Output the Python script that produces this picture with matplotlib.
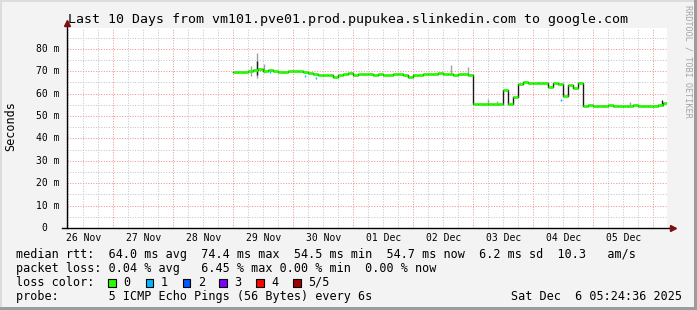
import matplotlib
matplotlib.use("Agg")
import matplotlib.pyplot as plt
import matplotlib.transforms as mtrans
from matplotlib.patches import Rectangle
from matplotlib.lines import Line2D

# ---------------- data (x in days since 26 Nov 00:00) ----------------
day_labels = ["26 Nov", "27 Nov", "28 Nov", "29 Nov", "30 Nov",
              "01 Dec", "02 Dec", "03 Dec", "04 Dec", "05 Dec"]
y_ticks = [0, 10, 20, 30, 40, 50, 60, 70, 80]
y_labels = ["0", "10 m", "20 m", "30 m", "40 m", "50 m", "60 m", "70 m", "80 m"]

t_start = 0.2254      # 26 Nov 05:24:36
t_end = 10.2254       # 06 Dec 05:24:36
data_start = 3.0      # 29 Nov 00:00
step = 1 / 12         # 2 hours

# median rtt (ms), one value per 2 hours
median = [69.8, 69.6, 69.5, 69.9, 70.4, 70.9, 70.2, 70.5, 70.0, 69.8,
          69.7, 69.9, 70.1, 70.3, 69.6, 69.2, 68.6, 68.4, 68.5, 68.3,
          67.6, 68.4, 68.8, 69.0, 68.5, 68.7, 68.6, 68.9, 68.4, 68.8,
          68.5, 68.2, 68.6, 68.8, 68.3, 67.5, 68.1, 68.5, 68.7, 68.9,
          68.6, 69.0, 68.7, 68.9, 68.5, 68.8, 68.6, 68.4,
          55.3, 55.2, 55.4, 55.5, 55.2, 55.3, 61.8, 55.2, 58.5,
          64.5, 65.0, 64.8, 64.7, 64.9, 64.6, 63.0, 64.7, 64.2, 59.0, 64.0, 62.5, 64.6,
          54.6, 54.7, 54.6, 54.5, 54.6, 54.7, 54.6, 54.6, 54.5, 54.6,
          54.7, 54.6, 54.6, 54.5, 54.6, 54.8, 55.8]

# smoke (spread of pings) that sticks out of the median line
smoke_t = [3.29, 3.39, 3.51, 6.62, 6.91, 7.24, 7.39, 9.61]
smoke_lo = [68.0, 67.0, 69.0, 68.5, 68.5, 55.0, 55.0, 54.6]
smoke_hi = [72.4, 78.0, 73.2, 72.7, 72.0, 57.5, 56.8, 56.4]
dark_t = [3.39, 10.14]
dark_lo = [68.5, 54.6]
dark_hi = [74.4, 57.0]
loss1_t = [3.61, 4.19, 4.37, 8.46]
loss1_lo = [69.4, 67.4, 66.6, 56.8]
loss1_hi = [70.2, 68.4, 67.6, 57.8]

loss_names = ["0", "1", "2", "3", "4", "5/5"]
loss_colors = ["#26ff00", "#00b8ff", "#0059ff", "#7e00ff", "#ff0000", "#a10000"]

legend_lines = [
    "median rtt:  64.0 ms avg  74.4 ms max  54.5 ms min  54.7 ms now  6.2 ms sd  10.3   am/s",
    "packet loss: 0.04 % avg   6.45 % max 0.00 % min  0.00 % now",
    "loss color:",
    "probe:       5 ICMP Echo Pings (56 Bytes) every 6s",
]
stamp = "Sat Dec  6 05:24:36 2025"
title = "Last 10 Days from vm101.pve01.prod.pupukea.slinkedin.com to google.com"

# ---------------- figure ----------------
W, H = 697, 310
MONO = "DejaVu Sans Mono"
fig = plt.figure(figsize=(W / 100, H / 100), dpi=100, facecolor="#f3f3f3")

def fx(px):
    return px / W

def fy(py):
    return 1 - py / H

ax = fig.add_axes([fx(67), fy(228), 600 / W, 200 / H])
ax.set_facecolor("white")
ax.set_xlim(t_start, t_end)
ax.set_ylim(0, 89.3)
for s in ax.spines.values():
    s.set_visible(False)
ax.set_xticks([])
ax.set_yticks([])

# grid
dots = (0, (1, 1.6))
minor_c = "#c4c4c4"
major_c = "#f09090"
t = 0.25
while t < t_end:
    if t > t_start:
        major = abs(t - round(t)) < 1e-6
        ax.axvline(t, color=major_c if major else minor_c,
                   lw=0.72, ls=dots, zorder=1)
    t += 0.25
for v in range(5, 90, 5):
    ax.axhline(v, color=major_c if v % 10 == 0 else minor_c,
               lw=0.72, ls=dots, zorder=1)

# smoke
ax.vlines(smoke_t, smoke_lo, smoke_hi, color="#a0a0a0", lw=1.0, zorder=2)
ax.vlines(dark_t, dark_lo, dark_hi, color="#222222", lw=1.0, zorder=3)

# median: black steps, green (loss 0) horizontal pieces on top
tt = [data_start + i * step for i in range(len(median))]
ax.step(tt + [tt[-1] + step], median + [median[-1]], where="post",
        color="#1a1a1a", lw=1.0, zorder=4)
ax.hlines(median, tt, [x + step for x in tt], color=loss_colors[0],
          lw=1.9, zorder=5)
ax.vlines(loss1_t, loss1_lo, loss1_hi, color=loss_colors[1], lw=1.0, zorder=6)

# axes with arrows
ax.add_line(Line2D([-0.0083, 1.005], [0, 0], transform=ax.transAxes,
                   color="black", lw=1.0, clip_on=False, zorder=7))
ax.add_line(Line2D([0, 0], [0, 1.015], transform=ax.transAxes,
                   color="black", lw=1.0, clip_on=False, zorder=7))
ax.plot([1.0095], [0], marker=">", ms=4.5, color="#7a1010",
        transform=ax.transAxes, clip_on=False, zorder=8)
ax.plot([0], [1.024], marker="^", ms=4.5, color="#7a1010",
        transform=ax.transAxes, clip_on=False, zorder=8)

# tick labels
ylab_tr = ax.get_yaxis_transform()
for v, lab in zip(y_ticks, y_labels):
    xr = -20 / 600 if v == 0 else -7.5 / 600
    ax.text(xr, v, lab, transform=ylab_tr, ha="right", va="center",
            family=MONO, fontsize=7.05, color="black")
xlab_tr = mtrans.blended_transform_factory(ax.transData, fig.transFigure)
for i, lab in enumerate(day_labels):
    xc = i + 0.5
    if t_start < xc < t_end:
        ax.text(xc, fy(237.7), lab, transform=xlab_tr,
                ha="center", va="center", family=MONO, fontsize=7.05)

# title, y label, watermark
fig.text(0.5, fy(19), title, ha="center", va="center", family=MONO,
         fontsize=9.5)
fig.text(fx(10.5), fy(126), "Seconds", rotation=90, ha="center",
         va="center", family=MONO, fontsize=8.5)
fig.text(fx(688), fy(5), "RRDTOOL / TOBI OETIKER", rotation=270,
         ha="center", va="top", family=MONO, fontsize=6.1, color="#a4a4a4")

# legend
for i, line in enumerate(legend_lines):
    fig.text(fx(15.5), fy(254.3 + 14 * i), line, ha="left", va="center",
             family=MONO, fontsize=8.5)
fig.text(fx(682), fy(296.3), stamp, ha="right", va="center",
         family=MONO, fontsize=8.5)
box_x = [108.3, 145.7, 182.7, 219.3, 256.0, 293.3]
for bx, c, name in zip(box_x, loss_colors, loss_names):
    fig.patches.append(Rectangle((fx(bx), fy(286.5)), 7.5 / W, 7.5 / H,
                                 transform=fig.transFigure, facecolor=c,
                                 edgecolor="black", lw=0.8))
    fig.text(fx(bx + 15), fy(282.3), name, ha="left", va="center",
             family=MONO, fontsize=8.5)

# 3d frame
fig.patches.append(Rectangle((0, 1 - 2 / H), 1, 2 / H, transform=fig.transFigure,
                             facecolor="#dcdcdc", edgecolor="none"))
fig.patches.append(Rectangle((0, 0), 2 / W, 1, transform=fig.transFigure,
                             facecolor="#dcdcdc", edgecolor="none"))
fig.patches.append(Rectangle((0, 0), 1, 3 / H, transform=fig.transFigure,
                             facecolor="#9c9c9c", edgecolor="none"))
fig.patches.append(Rectangle((1 - 3 / W, 0), 3 / W, 1, transform=fig.transFigure,
                             facecolor="#9c9c9c", edgecolor="none"))

fig.savefig("out.png", dpi=100, facecolor=fig.get_facecolor())
